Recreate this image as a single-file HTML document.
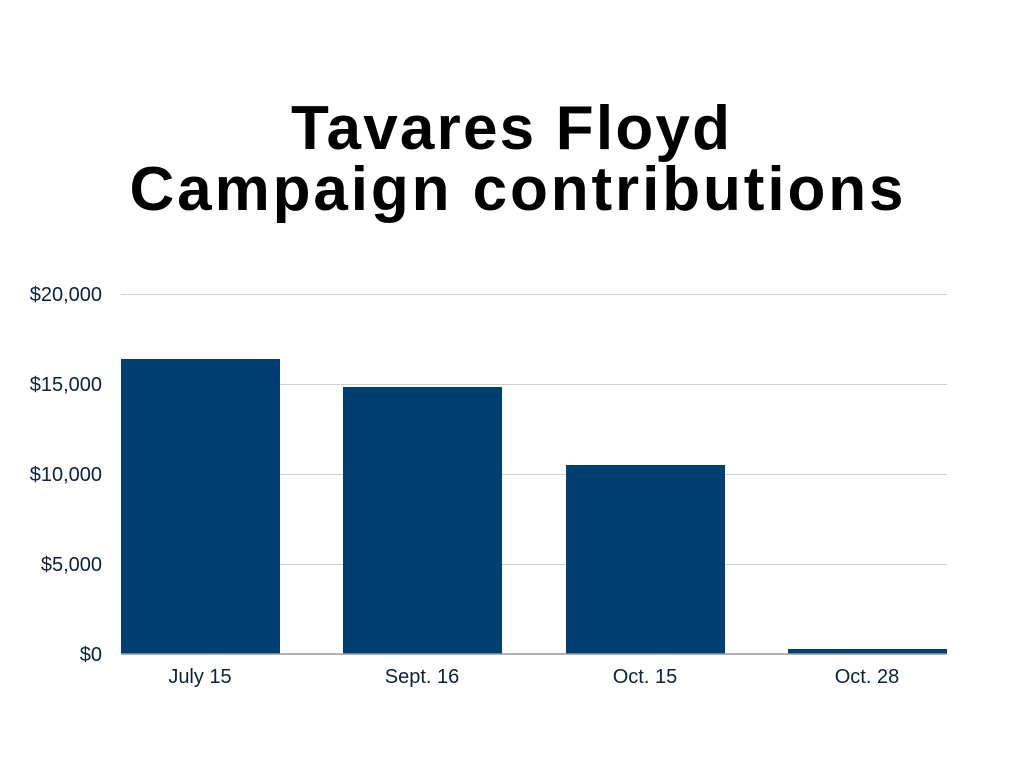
<!DOCTYPE html>
<html><head><style>
body{margin:0;background:#fff;width:1024px;height:768px;overflow:hidden;font-family:"Liberation Sans",sans-serif;}
</style></head><body>
<svg width="1024" height="768" xmlns="http://www.w3.org/2000/svg">
<rect width="1024" height="768" fill="#fff"/>
<g font-family="Liberation Sans, sans-serif" font-weight="bold" font-size="62" text-anchor="middle" fill="#000" letter-spacing="3">
<text x="512" y="149" textLength="442" lengthAdjust="spacing">Tavares Floyd</text>
<text x="518" y="210" textLength="777" lengthAdjust="spacing">Campaign contributions</text>
</g>
<g stroke="#d0d0d0" stroke-width="1">
<line x1="121" y1="294.5" x2="947" y2="294.5"/>
<line x1="121" y1="384.5" x2="947" y2="384.5"/>
<line x1="121" y1="474.5" x2="947" y2="474.5"/>
<line x1="121" y1="564.5" x2="947" y2="564.5"/>
</g>
<g fill="#003f71">
<rect x="121" y="359" width="159" height="295"/>
<rect x="343" y="387" width="159" height="267"/>
<rect x="566" y="465" width="159" height="189"/>
<rect x="788" y="649" width="159" height="5"/>
</g>
<line x1="121" y1="654" x2="947" y2="654" stroke="#999" stroke-width="1.5"/>
<g font-family="Liberation Sans, sans-serif" font-size="20" fill="#0d2233" text-anchor="end">
<text x="102" y="301">$20,000</text>
<text x="102" y="391">$15,000</text>
<text x="102" y="481">$10,000</text>
<text x="102" y="571">$5,000</text>
<text x="102" y="661">$0</text>
</g>
<g font-family="Liberation Sans, sans-serif" font-size="20" fill="#0d2233" text-anchor="middle">
<text x="200" y="683">July 15</text>
<text x="422" y="683">Sept. 16</text>
<text x="645" y="683">Oct. 15</text>
<text x="867" y="683">Oct. 28</text>
</g>
</svg>
</body></html>
